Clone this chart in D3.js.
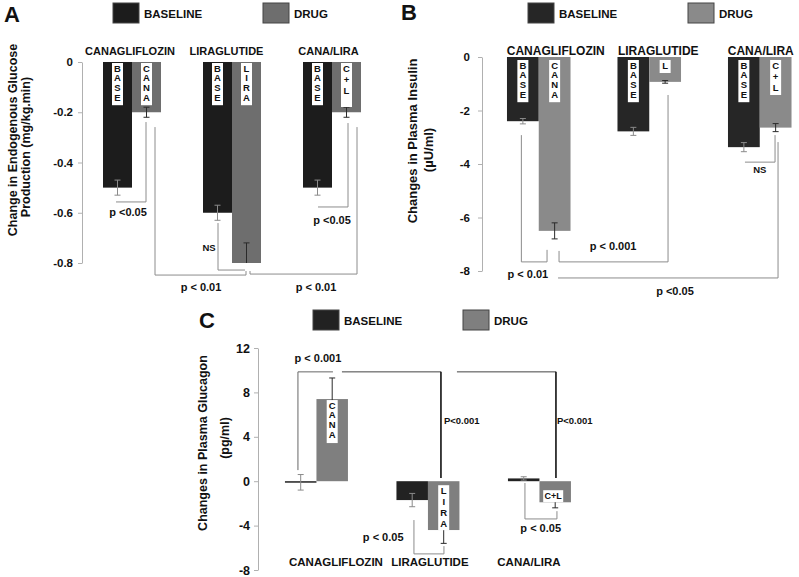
<!DOCTYPE html>
<html><head><meta charset="utf-8">
<script src="https://cdn.jsdelivr.net/npm/d3@7"></script>
<style>
body{margin:0;background:#fff}
text{font-family:"Liberation Sans",Arial,sans-serif;font-weight:bold;fill:#111}
</style></head>
<body><svg id="c" width="799" height="577"></svg>
<script>
// ---------- DATA ----------
const categories = ["CANAGLIFLOZIN", "LIRAGLUTIDE", "CANA/LIRA"];
const seriesNames = ["BASELINE", "DRUG"];
const baseBarLabel = "BASE";

// Panel A: endogenous glucose production
const egpTicks = [0, -0.2, -0.4, -0.6, -0.8];
const egpTickLabels = ["0", "-0.2", "-0.4", "-0.6", "-0.8"];
const egpBaseline = [-0.5, -0.6, -0.5];
const egpDrug = [-0.2, -0.8, -0.2];
const egpBaselineErr = [0.03, 0.03, 0.03];
const egpDrugErr = [0.02, 0.08, 0.02];
const egpDrugLabels = ["CANA", "LIRA", "C+L"];

// Panel B: plasma insulin
const insTicks = [0, -2, -4, -6, -8];
const insTickLabels = ["0", "-2", "-4", "-6", "-8"];
const insBaseline = [-2.4, -2.78, -3.37];
const insDrug = [-6.5, -0.93, -2.64];
const insBaselineErr = [0.1, 0.15, 0.17];
const insDrugErr = [0.3, 0.05, 0.15];
const insDrugLabels = ["CANA", "L", "C+L"];

// Panel C: plasma glucagon
const gluTicks = [12, 8, 4, 0, -4, -8];
const gluTickLabels = ["12", "8", "4", "0", "-4", "-8"];
const gluBaseline = [-0.1, -1.7, 0.25];
const gluDrug = [7.4, -4.4, -1.9];
const gluBaselineErr = [0.7, 0.6, 0.15];
const gluDrugErr = [1.9, 1.2, 0.5];
const gluDrugLabels = ["CANA", "LIRA", "C+L"];

const legendLabels = ["BASELINE", "DRUG"];

// ---------- DRAW ----------
const svg = d3.select("#c");

function panel(cfg) {
  const g = svg.append("g");
  const x = d3.scaleBand().domain(categories).range(cfg.xRange)
    .paddingInner(cfg.pad).paddingOuter(cfg.pad / 2);
  const sub = d3.scaleBand().domain(seriesNames).range([0, x.bandwidth()]);
  const y = d3.scaleLinear().domain(cfg.yDomain).range(cfg.yRange);
  const cx = (ci, s, dx) => x(categories[ci]) + sub(seriesNames[s]) + sub.bandwidth() / 2 + (dx || 0);
  const [dMax, dMin] = [d3.max(cfg.yDomain), d3.min(cfg.yDomain)];

  // panel letter
  g.append("text").attr("x", cfg.letter[1]).attr("y", cfg.letter[2])
    .style("font-size", "22px").text(cfg.letter[0]);

  // legend
  const colors = [cfg.baseColor, cfg.drugColor];
  legendLabels.forEach((lab, i) => {
    const lx = cfg.legend.x[i];
    g.append("rect").attr("x", lx).attr("y", cfg.legend.y).attr("width", 26).attr("height", 20)
      .attr("fill", colors[i]).attr("stroke", "#444").attr("stroke-width", 1);
    g.append("text").attr("x", lx + 31).attr("y", cfg.legend.y + 15)
      .style("font-size", "11.5px").text(lab);
  });

  // axis
  const axis = d3.axisLeft(y).tickValues(cfg.ticks)
    .tickFormat((d, i) => cfg.tickLabels[i]).tickSize(4).tickSizeOuter(0).tickPadding(cfg.tickPad);
  const ag = g.append("g").attr("transform", `translate(${cfg.axisX},0)`).call(axis);
  ag.select(".domain").attr("stroke", "#b0b0b0");
  ag.selectAll(".tick line").attr("stroke", "#b0b0b0");
  ag.selectAll(".tick text").attr("fill", "#111")
    .style("font-size", cfg.tickFont).style("font-weight", "bold")
    .style("font-family", '"Liberation Sans",Arial,sans-serif');

  // axis title
  cfg.title.forEach(t => {
    g.append("text").attr("transform", `translate(${t.x},${t.y}) rotate(-90)`)
      .attr("text-anchor", "middle").style("font-size", cfg.titleFont).text(t.text);
  });

  // bars
  const vals = [cfg.base, cfg.drug];
  const errs = [cfg.baseErr, cfg.drugErr];
  seriesNames.forEach((s, si) => {
    g.selectAll(null).data(categories).enter().append("rect")
      .attr("x", c => x(c) + sub(s))
      .attr("width", sub.bandwidth())
      .attr("y", (c, i) => Math.min(y(0), y(vals[si][i])))
      .attr("height", (c, i) => Math.max(1.5, Math.abs(y(vals[si][i]) - y(0))))
      .attr("fill", colors[si]);
  });

  // error bars
  seriesNames.forEach((s, si) => {
    categories.forEach((c, i) => {
      const v = vals[si][i], e = errs[si][i];
      const hi = Math.min(dMax, v + e), lo = Math.max(dMin, v - e);
      const px = cx(i, si);
      const col = si === 0 ? "#8a8a8a" : "#2a2a2a";
      g.append("line").attr("x1", px).attr("x2", px).attr("y1", y(hi)).attr("y2", y(lo))
        .attr("stroke", col).attr("stroke-width", 1);
      if (hi === v + e) g.append("line").attr("x1", px - 3).attr("x2", px + 3)
        .attr("y1", y(hi)).attr("y2", y(hi)).attr("stroke", col);
      if (lo === v - e) g.append("line").attr("x1", px - 3).attr("x2", px + 3)
        .attr("y1", y(lo)).attr("y2", y(lo)).attr("stroke", col);
    });
  });

  // in-bar labels
  function vlabel(px, top, word, step, boxH, w) {
    const letters = word.split("");
    const h = boxH || letters.length * step + 3;
    g.append("rect").attr("x", px - w / 2).attr("y", top).attr("width", w).attr("height", h)
      .attr("fill", "#fff");
    letters.forEach((l, k) => {
      g.append("text").attr("x", px).attr("y", top + 8.5 + k * step)
        .attr("text-anchor", "middle").style("font-size", "9.5px").text(l);
    });
  }
  categories.forEach((c, i) => {
    if (cfg.baseLabels) vlabel(cx(i, 0), y(0) + cfg.boxOff, baseBarLabel, cfg.step, null, 11);
    const lab = cfg.drugLabels[i];
    const topY = Math.min(y(0), y(cfg.drug[i])) + (cfg.drug[i] > 0 ? 1 : cfg.boxOff);
    if (cfg.horizLabels && cfg.horizLabels[i]) {
      const px = cx(i, 1, -2);
      g.append("rect").attr("x", px - 10).attr("y", topY + 5).attr("width", 20).attr("height", 12).attr("fill", "#fff");
      g.append("text").attr("x", px).attr("y", topY + 14).attr("text-anchor", "middle")
        .style("font-size", "9px").text(lab);
    } else {
      const st = cfg.drugStep ? cfg.drugStep[i] : cfg.step;
      vlabel(cx(i, 1), topY, lab, st, cfg.drugBoxH ? cfg.drugBoxH[i] : null, 11);
    }
  });

  // category labels
  categories.forEach((c, i) => {
    g.append("text").attr("x", x(c) + x.bandwidth() / 2 + cfg.catDx[i]).attr("y", y(cfg.catV))
      .attr("text-anchor", "middle").style("font-size", cfg.catFont).text(c);
  });

  // significance brackets
  const line = d3.line().x(p => cx(p[0], p[1], p[2])).y(p => y(p[3]));
  cfg.brackets.forEach(b => {
    g.append("path").attr("d", line(b.pts)).attr("fill", "none")
      .attr("stroke", b.color || "#8c8c8c").attr("stroke-width", b.w || 1);
  });
  cfg.notes.forEach(n => {
    g.append("text").attr("x", cx(n.ci, n.s, n.dx)).attr("y", y(n.v))
      .attr("text-anchor", n.anchor || "middle").style("font-size", n.size || "11px").text(n.text);
  });
}

// Panel A
panel({
  letter: ["A", 4, 22],
  legend: { x: [113, 263], y: 3 },
  xRange: [82, 382], pad: 0.42,
  yDomain: [0, -0.8], yRange: [62, 263],
  axisX: 82, ticks: egpTicks, tickLabels: egpTickLabels, tickPad: 5, tickFont: "11.5px",
  title: [{ x: 17, y: 140, text: "Change in Endogenous Glucose" },
          { x: 30, y: 147, text: "Production (mg/kg.min)" }],
  titleFont: "12.5px",
  base: egpBaseline, drug: egpDrug, baseErr: egpBaselineErr, drugErr: egpDrugErr,
  baseColor: "#1c1c1c", drugColor: "#6e6e6e",
  baseLabels: true, drugLabels: egpDrugLabels, step: 9.8, boxOff: 1, drugBoxH: [null, null, 44],
  drugStep: [9.8, 9.8, 11],
  catDx: [-2, -5.5, -3.5], catV: 0.028, catFont: "11px",
  brackets: [
    { pts: [[0, 1, -0.5, -0.239], [0, 1, -0.5, -0.557], [0, 0, -1.5, -0.557]] },
    { pts: [[0, 1, 8.5, -0.259], [0, 1, 8.5, -0.848], [1, 1, -0.5, -0.848], [1, 1, -0.5, -0.832]] },
    { pts: [[1, 1, 3.5, -0.832], [1, 1, 3.5, -0.844], [2, 1, 10.5, -0.844], [2, 1, 10.5, -0.259]] },
    { pts: [[2, 1, 1.5, -0.243], [2, 1, 1.5, -0.577], [2, 0, 0.5, -0.577]] },
    { pts: [[1, 0, 0.5, -0.641], [1, 0, 0.5, -0.828], [1, 1, -1.5, -0.828]] }
  ],
  notes: [
    { ci: 0, s: 0, dx: 10.5, v: -0.613, text: "p <0.05" },
    { ci: 2, s: 0, dx: 14.5, v: -0.645, text: "p <0.05" },
    { ci: 1, s: 0, dx: -16.5, v: -0.911, text: "p < 0.01" },
    { ci: 2, s: 0, dx: -1.5, v: -0.911, text: "p < 0.01" },
    { ci: 1, s: 0, dx: -8.5, v: -0.752, text: "NS", size: "9.5px" }
  ]
});

// Panel B
panel({
  letter: ["B", 401, 20],
  legend: { x: [528, 688], y: 3 },
  xRange: [483.5, 815], pad: 0.425,
  yDomain: [0, -8], yRange: [57, 271],
  axisX: 482, ticks: insTicks, tickLabels: insTickLabels, tickPad: 8, tickFont: "11.5px",
  title: [{ x: 417, y: 141, text: "Changes in Plasma Insulin" },
          { x: 433, y: 150, text: "(µU/ml)" }],
  titleFont: "13px",
  base: insBaseline, drug: insDrug, baseErr: insBaselineErr, drugErr: insDrugErr,
  baseColor: "#262626", drugColor: "#8a8a8a",
  baseLabels: true, drugLabels: insDrugLabels, step: 9.8, boxOff: 3,
  drugBoxH: [null, 13, 35], drugStep: [9.8, 9.8, 11],
  catDx: [17, 9, 1], catV: 0.075, catFont: "12px",
  brackets: [
    { pts: [[0, 0, -1.5, -2.92], [0, 0, -1.5, -7.66], [0, 1, -7.6, -7.66], [0, 1, -7.6, -7.21]] },
    { pts: [[0, 1, 4.4, -7.25], [0, 1, 4.4, -7.66], [1, 1, 2.9, -7.66], [1, 1, 2.9, -1.42]] },
    { pts: [[0, 1, 3.4, -8.26], [2, 1, 2.4, -8.26], [2, 1, 2.4, -3.18]] },
    { pts: [[2, 1, -0.6, -2.92], [2, 1, -0.6, -3.93], [2, 0, 1.1, -3.93]] }
  ],
  notes: [
    { ci: 0, s: 0, dx: 5, v: -8.26, text: "p < 0.01" },
    { ci: 0, s: 1, dx: 58.4, v: -7.21, text: "p < 0.001" },
    { ci: 1, s: 0, dx: 41.6, v: -8.9, text: "p <0.05" },
    { ci: 2, s: 0, dx: 16, v: -4.34, text: "NS", size: "9.5px" }
  ]
});

// Panel C
panel({
  letter: ["C", 199, 328],
  legend: { x: [313, 463], y: 310 },
  xRange: [260.7, 595.2], pad: 0.435,
  yDomain: [12, -8], yRange: [348, 570],
  axisX: 258, ticks: gluTicks, tickLabels: gluTickLabels, tickPad: 4, tickFont: "12.5px",
  title: [{ x: 207, y: 443, text: "Changes in Plasma Glucagon" },
          { x: 229, y: 438, text: "(pg/ml)" }],
  titleFont: "12.5px",
  base: gluBaseline, drug: gluDrug, baseErr: gluBaselineErr, drugErr: gluDrugErr,
  baseColor: "#222222", drugColor: "#7f7f7f",
  baseLabels: false, drugLabels: gluDrugLabels, step: 9.8, boxOff: 4,
  drugBoxH: [43, 45, null], drugStep: [9.8, 11, 9.8], horizLabels: [false, false, true],
  catDx: [19.5, 2, -10.5], catV: -7.64, catFont: "11.5px",
  brackets: [
    { pts: [[0, 0, -2.75, 1.0], [0, 0, -2.75, 9.85], [0, 1, 0.75, 9.85]], color: "#666" },
    { pts: [[0, 1, 9.75, 9.85], [1, 1, -2.75, 9.85]], color: "#444" },
    { pts: [[1, 1, -2.75, 9.85], [1, 1, -2.75, 0.29]], color: "#111", w: 1.6 },
    { pts: [[1, 1, 13.25, 9.85], [2, 1, 0.75, 9.85]], color: "#444" },
    { pts: [[2, 1, 0.75, 9.85], [2, 1, 0.75, 0.29]], color: "#111", w: 1.6 },
    { pts: [[1, 0, 1.75, -3.5], [1, 0, 1.75, -6.55], [1, 1, 0.25, -6.55], [1, 1, 0.25, -5.85]] },
    { pts: [[2, 0, 1.25, -0.16], [2, 0, 1.25, -3.4], [2, 1, 1.75, -3.4], [2, 1, 1.75, -2.7]] }
  ],
  notes: [
    { ci: 0, s: 0, dx: 17.25, v: 10.74, text: "p < 0.001" },
    { ci: 1, s: 1, dx: 0.25, v: 5.15, text: "P<0.001", anchor: "start", size: "9.5px" },
    { ci: 2, s: 1, dx: 1.75, v: 5.15, text: "P<0.001", anchor: "start", size: "9.5px" },
    { ci: 1, s: 0, dx: -29, v: -5.39, text: "p < 0.05" },
    { ci: 2, s: 0, dx: 17, v: -4.58, text: "p < 0.05" }
  ]
});
</script></body></html>
